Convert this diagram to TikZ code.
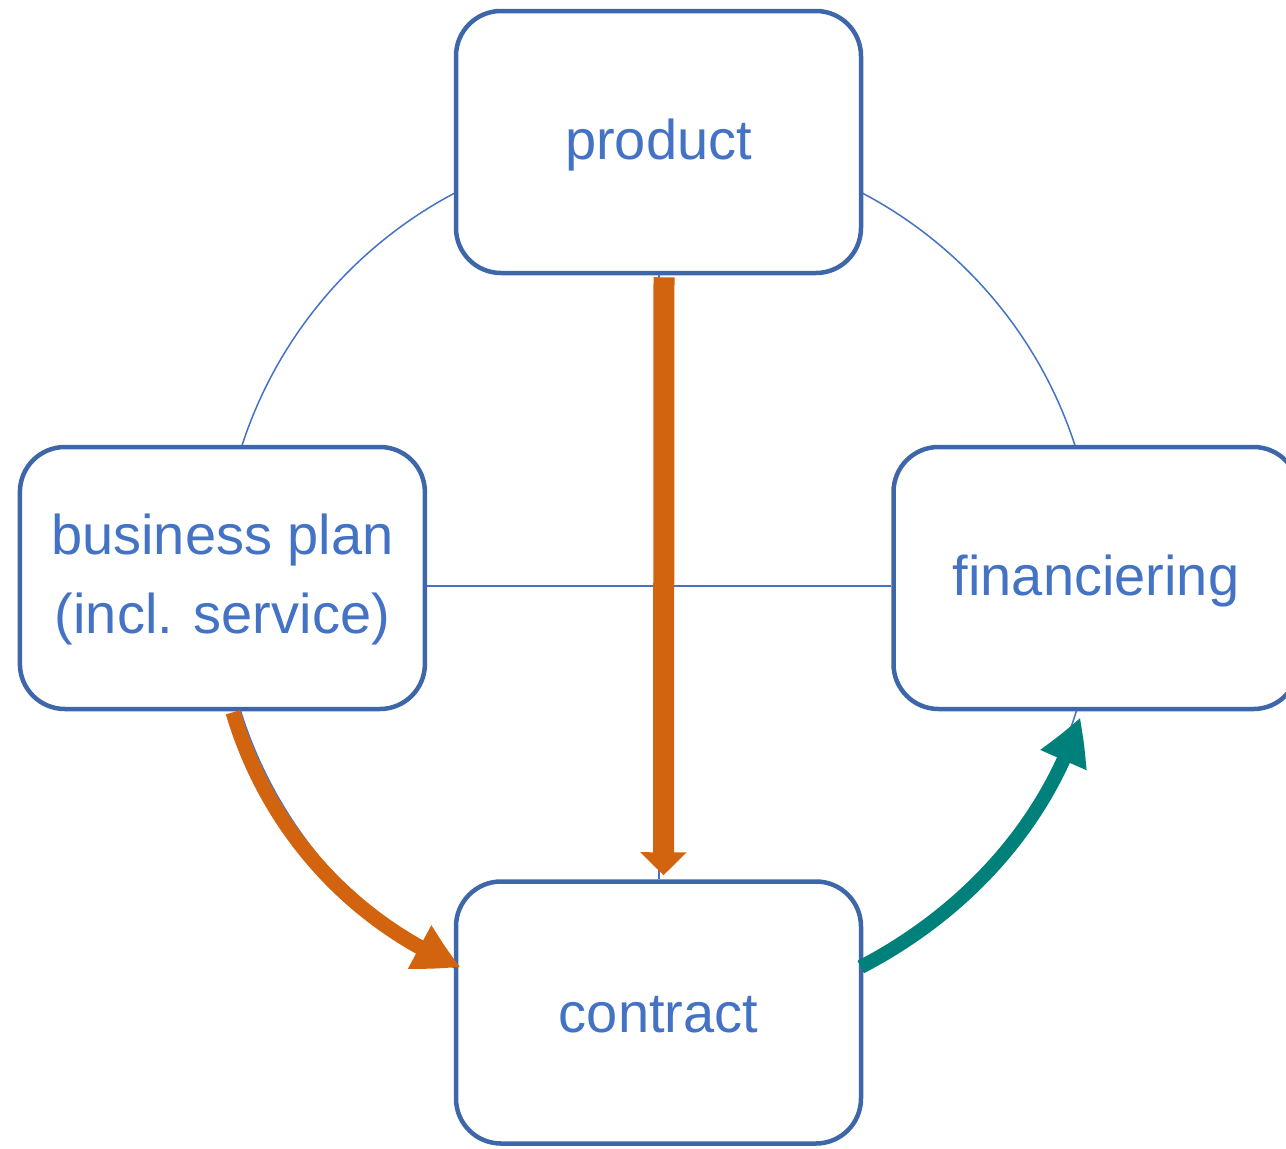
\documentclass[tikz,border=0pt]{standalone}
\usepackage{fontspec}
\setmainfont{Liberation Sans}
\usetikzlibrary{arrows.meta,calc,bending}
\definecolor{boxblue}{RGB}{62,103,170}
\definecolor{txtblue}{RGB}{68,114,196}
\definecolor{myorange}{RGB}{210,100,15}
\definecolor{myteal}{RGB}{0,128,122}
\newcommand{\lowertxt}[2]{\raisebox{-#1}[\height][\depth]{#2}}
\tikzset{
  stage/.style={draw=boxblue, line width=4.5pt, fill=white, rounded corners=45pt,
    minimum width=405pt, minimum height=262pt, inner sep=0pt, align=center,
    text=txtblue, font=\fontsize{56}{79}\selectfont},
  thinlink/.style={draw=txtblue, line width=2.5pt},
  ringline/.style={draw=txtblue, line width=1.5pt},
  orangecurve/.style={draw=myorange, line width=15pt,
    -{Triangle[length=46pt,width=46pt,bend]}},
  orangestraight/.style={draw=myorange, line width=21pt,
    -{Triangle[length=23pt,width=45pt]}},
  tealcurve/.style={draw=myteal, line width=14pt,
    -{Triangle[length=46pt,width=47pt,bend]}}
}
\begin{document}
\begin{tikzpicture}[x=1pt,y=-1pt]
\useasboundingbox (0,0) rectangle (1286,1149);
\coordinate (hub) at (658.5,580.5);
\draw[ringline] (hub) circle[radius=437.7];
\node[stage] (pr) at (658.5,142) {\lowertxt{3pt}{product}};
\node[stage] (bp) at (222.4,578) {\begin{tabular}{@{}c@{}}business plan\\(incl. service)\end{tabular}};
\node[stage] (fin) at (1096,578) {\lowertxt{3pt}{financiering}};
\node[stage] (ct) at (658.5,1012.5) {\lowertxt{2pt}{contract}};
\draw[thinlink] ([yshift=-8pt]bp.east) -- ([yshift=-8pt]fin.west);
\draw[thinlink] ([xshift=0.5pt]pr.south) -- ([xshift=0.5pt]ct.north);
\draw[orangestraight] ([xshift=5.5pt,yshift=-2pt]pr.south) -- ([xshift=5pt,yshift=4pt]ct.north);
\draw[orangecurve] ([xshift=10.6pt,yshift=-1pt]bp.south) .. controls +(34,115) and +(-111,-46) .. ([xshift=7pt,yshift=45.5pt]ct.west);
\draw[tealcurve] ([xshift=-2.5pt,yshift=45.5pt]ct.east) .. controls +(102,-53) and +(-35,109.5) .. ([xshift=-16pt,yshift=-6pt]fin.south);
\end{tikzpicture}
\end{document}
